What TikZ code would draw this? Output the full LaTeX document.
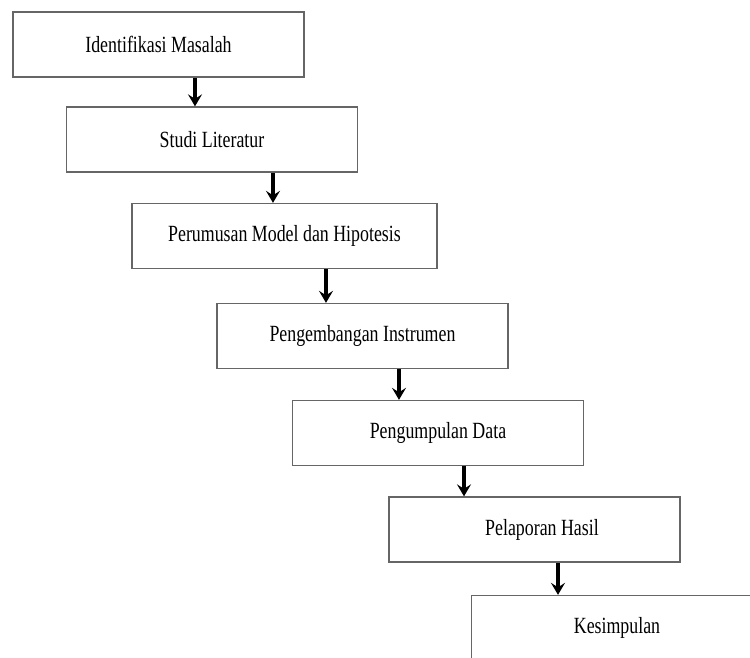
\documentclass[tikz,border=0pt]{standalone}
\usepackage{fontspec}
\setmainfont{Liberation Serif}[FakeStretch=0.77]
\usepackage{tikz}
\usetikzlibrary{arrows.meta}
\usetikzlibrary{positioning}
\tikzstyle{block} = [rectangle, draw=black!60, line width=0.75pt, align=center, minimum width=5.82cm, minimum height=1.3cm, inner sep=0pt, font=\fontsize{13.2}{15}\selectfont]
\tikzstyle{arrow} = [draw, line width=2pt, -{Stealth[length=2.4mm,width=2.8mm,inset=0.9mm]}]

\begin{document}
\begin{tikzpicture}[x=0.02cm, y=-0.02cm]
\clip (0, 0) rectangle (750, 657);

%% steps
\node [block] at (158.5, 44.5) (masalah) {Identifikasi Masalah};
\node [block] at (212, 139.5) (literatur) {Studi Literatur};
\node [block, minimum width=6.1cm] at (284.5, 236) (model) {Perumusan Model dan Hipotesis};
\node [block] at (362.5, 336) (instrumen) {Pengembangan Instrumen};
\node [block] at (438, 433) (data) {Pengumpulan Data};
\node [block] at (534.5, 529.5) (hasil) {\hspace*{0.3cm}Pelaporan Hasil};
\node [block] at (617, 628) (kesimpulan) {Kesimpulan};

%% arrows
\path [arrow] ([xshift=0.73cm]masalah.south) to ([xshift=0.73cm]masalah.south |- literatur.north);
\path [arrow] ([xshift=1.22cm]literatur.south) to ([xshift=1.22cm]literatur.south |- model.north);
\path [arrow] ([xshift=0.83cm]model.south) to ([xshift=0.83cm]model.south |- instrumen.north);
\path [arrow] ([xshift=0.73cm]instrumen.south) to ([xshift=0.73cm]instrumen.south |- data.north);
\path [arrow] ([xshift=0.52cm]data.south) to ([xshift=0.52cm]data.south |- hasil.north);
\path [arrow] ([xshift=0.47cm]hasil.south) to ([xshift=0.47cm]hasil.south |- kesimpulan.north);

\end{tikzpicture}
\end{document}
